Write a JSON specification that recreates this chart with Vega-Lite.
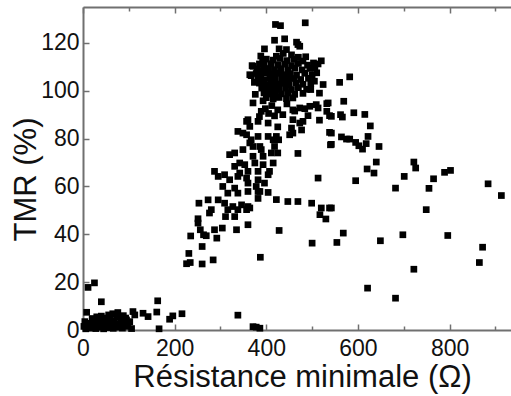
{
  "$schema": "https://vega.github.io/schema/vega-lite/v6.json",
  "width": 428,
  "height": 323,
  "autosize": "none",
  "padding": {"left": 83, "top": 7, "right": 0, "bottom": 66},
  "background": "white",
  "config": {"view": {"stroke": null}, "font": "Liberation Sans"},
  "data": {"values": [
    {"r":2,"tmr":1.5},{"r":4,"tmr":3.5},{"r":6,"tmr":0.5},{"r":9,"tmr":2},{"r":12,"tmr":1},{"r":15,"tmr":2.8},{"r":18,"tmr":0.8},{"r":22,"tmr":1.8},{"r":26,"tmr":3.2},{"r":28,"tmr":0.6},
    {"r":32,"tmr":2.2},{"r":35,"tmr":4.5},{"r":38,"tmr":1.2},{"r":42,"tmr":3},{"r":45,"tmr":0.5},{"r":47,"tmr":5},{"r":50,"tmr":2.2},{"r":53,"tmr":4},{"r":55,"tmr":1},{"r":58,"tmr":3.2},
    {"r":60,"tmr":5.2},{"r":63,"tmr":1.8},{"r":66,"tmr":0.7},{"r":68,"tmr":3.8},{"r":72,"tmr":2.5},{"r":75,"tmr":5.5},{"r":78,"tmr":1.2},{"r":82,"tmr":3.3},{"r":86,"tmr":0.8},{"r":90,"tmr":2.5},
    {"r":93,"tmr":5},{"r":98,"tmr":1.5},{"r":102,"tmr":3.5},{"r":106,"tmr":0.6},{"r":40,"tmr":5.8},{"r":30,"tmr":5.5},{"r":20,"tmr":4.8},{"r":56,"tmr":6.3},{"r":65,"tmr":6.8},{"r":88,"tmr":6},
    {"r":11,"tmr":17.8},{"r":25,"tmr":19.7},{"r":40,"tmr":11.8},{"r":8,"tmr":7.4},{"r":76,"tmr":7.3},{"r":84,"tmr":4.9},{"r":95,"tmr":4.2},{"r":109,"tmr":7.7},{"r":113,"tmr":6.3},{"r":131,"tmr":7},
    {"r":142,"tmr":5.6},{"r":161,"tmr":7.5},{"r":163,"tmr":12.2},{"r":166,"tmr":0.5},{"r":189,"tmr":4.5},{"r":196,"tmr":5.9},{"r":216,"tmr":6.8},
    {"r":226,"tmr":27.7},{"r":234,"tmr":28.2},{"r":231,"tmr":32},{"r":260,"tmr":27.6},{"r":284,"tmr":29.3},{"r":260,"tmr":34.9},{"r":235,"tmr":39.3},{"r":256,"tmr":41.9},{"r":263,"tmr":39.8},{"r":269,"tmr":39.4},
    {"r":287,"tmr":41.9},{"r":292,"tmr":38.4},{"r":304,"tmr":42.6},{"r":335,"tmr":41.9},{"r":360,"tmr":44},{"r":428,"tmr":41.6},{"r":251,"tmr":46.5},{"r":251,"tmr":44.7},{"r":276,"tmr":48.9},{"r":280,"tmr":50.3},
    {"r":253,"tmr":53},{"r":273,"tmr":54.4},{"r":311,"tmr":47.4},{"r":331,"tmr":47.4},{"r":357,"tmr":50.3},{"r":387,"tmr":30.4},{"r":338,"tmr":6.2},{"r":371,"tmr":1.4},{"r":386,"tmr":0.75},{"r":378,"tmr":1.2},
    {"r":295,"tmr":54.4},{"r":309,"tmr":53},{"r":327,"tmr":51.6},{"r":346,"tmr":52.3},{"r":360,"tmr":51.6},{"r":316,"tmr":50.3},{"r":338,"tmr":50.3},
    {"r":305,"tmr":60},{"r":331,"tmr":59.3},{"r":316,"tmr":57.2},{"r":338,"tmr":57.2},{"r":360,"tmr":57.9},{"r":382,"tmr":57.9},{"r":386,"tmr":57.9},{"r":382,"tmr":55},
    {"r":404,"tmr":57.5},{"r":422,"tmr":54.5},{"r":447,"tmr":53.7},{"r":469,"tmr":53.7},{"r":499,"tmr":53},{"r":520,"tmr":51},{"r":538,"tmr":51},{"r":517,"tmr":48.2},{"r":530,"tmr":46.4},{"r":364,"tmr":51},
    {"r":295,"tmr":64.2},{"r":309,"tmr":64.9},{"r":320,"tmr":62.8},{"r":338,"tmr":64.2},{"r":357,"tmr":63.5},{"r":360,"tmr":61.4},{"r":382,"tmr":62.8},{"r":404,"tmr":64.9},{"r":396,"tmr":61.4},{"r":378,"tmr":60},
    {"r":287,"tmr":66.3},{"r":342,"tmr":69.8},{"r":331,"tmr":68.4},{"r":353,"tmr":69.1},{"r":360,"tmr":66.3},{"r":342,"tmr":65.6},{"r":375,"tmr":69.8},{"r":393,"tmr":69.1},{"r":415,"tmr":69.8},{"r":382,"tmr":66.3},
    {"r":407,"tmr":66.3},{"r":320,"tmr":73.3},{"r":331,"tmr":74},{"r":349,"tmr":75.4},{"r":371,"tmr":76.7},{"r":389,"tmr":75.4},{"r":371,"tmr":72.6},{"r":393,"tmr":72.6},{"r":411,"tmr":74},{"r":418,"tmr":76.7},
    {"r":425,"tmr":74},{"r":469,"tmr":73.8},{"r":338,"tmr":83},{"r":357,"tmr":81.6},{"r":367,"tmr":79.5},{"r":382,"tmr":80.9},{"r":404,"tmr":80.9},{"r":422,"tmr":80.9},{"r":360,"tmr":87.9},{"r":382,"tmr":87.2},
    {"r":404,"tmr":86.5},{"r":425,"tmr":84.9},{"r":455,"tmr":84.4},{"r":477,"tmr":83.6},{"r":451,"tmr":81.6},{"r":436,"tmr":90},{"r":458,"tmr":87.9},{"r":480,"tmr":87.2},{"r":491,"tmr":89.6},{"r":516,"tmr":87.7},
    {"r":371,"tmr":94.9},{"r":393,"tmr":95.8},{"r":389,"tmr":91.4},{"r":364,"tmr":78.2},{"r":386,"tmr":76.7},{"r":415,"tmr":79.5},{"r":427,"tmr":79.5},{"r":349,"tmr":82.3},{"r":364,"tmr":85.1},{"r":357,"tmr":87.2},
    {"r":458,"tmr":82.3},{"r":473,"tmr":86.5},{"r":458,"tmr":92},{"r":473,"tmr":92.8},{"r":516,"tmr":99},{"r":532,"tmr":94.6},{"r":509,"tmr":94.2},{"r":532,"tmr":91.4},{"r":538,"tmr":89.6},{"r":538,"tmr":82.6},
    {"r":575,"tmr":79.8},{"r":540,"tmr":77.4},{"r":462,"tmr":91.5},{"r":484,"tmr":92.5},{"r":495,"tmr":93.5},{"r":513,"tmr":92.8},
    {"r":398,"tmr":92.5},{"r":412,"tmr":93.8},{"r":425,"tmr":92},{"r":445,"tmr":94.5},{"r":418,"tmr":89.5},{"r":405,"tmr":90.5},{"r":385,"tmr":89.2},
    {"r":582,"tmr":105.8},{"r":560,"tmr":103.5},{"r":569,"tmr":95.6},{"r":542,"tmr":89.3},{"r":562,"tmr":90},{"r":566,"tmr":89},{"r":591,"tmr":90.8},{"r":615,"tmr":90.1},{"r":627,"tmr":85.3},
    {"r":542,"tmr":82.3},{"r":542,"tmr":77.6},{"r":564,"tmr":80.7},{"r":582,"tmr":79.8},{"r":595,"tmr":78.4},{"r":602,"tmr":77},{"r":610,"tmr":75.6},{"r":618,"tmr":77.9},{"r":622,"tmr":80.9},{"r":646,"tmr":76.7},
    {"r":640,"tmr":70.2},{"r":620,"tmr":67.3},{"r":635,"tmr":65.6},{"r":595,"tmr":62.4},{"r":513,"tmr":63.5},
    {"r":722,"tmr":70.2},{"r":726,"tmr":67.7},{"r":701,"tmr":64.2},{"r":682,"tmr":59.3},{"r":765,"tmr":63.2},{"r":755,"tmr":59.2},{"r":789,"tmr":65.9},{"r":802,"tmr":66.7},{"r":884,"tmr":61.1},{"r":913,"tmr":56.2},
    {"r":749,"tmr":50.3},{"r":542,"tmr":51},{"r":554,"tmr":36.6},{"r":568,"tmr":40.5},{"r":649,"tmr":37.3},{"r":698,"tmr":39.8},{"r":796,"tmr":39.5},{"r":872,"tmr":34.6},{"r":865,"tmr":28.2},{"r":722,"tmr":25.4},
    {"r":621,"tmr":17.5},{"r":682,"tmr":13.3},{"r":500,"tmr":36.3},
    {"r":420,"tmr":127.7},{"r":431,"tmr":127.2},{"r":485,"tmr":128.4},{"r":418,"tmr":121.1},{"r":440,"tmr":121.7},{"r":466,"tmr":120.3},{"r":473,"tmr":118.6},{"r":396,"tmr":117.5},{"r":428,"tmr":117.5},{"r":444,"tmr":117.2},
    {"r":369,"tmr":110.5},{"r":364,"tmr":106.7},{"r":520,"tmr":112.5},{"r":513,"tmr":111.2},{"r":506,"tmr":109.5},{"r":524,"tmr":102.6},{"r":535,"tmr":94.9},{"r":371,"tmr":110.2},{"r":367,"tmr":106.3},{"r":469,"tmr":119.3},
    {"r":400,"tmr":113.2},{"r":415,"tmr":112.8},{"r":430,"tmr":113.5},{"r":445,"tmr":112.6},{"r":460,"tmr":113.1},{"r":480,"tmr":112.4},
    {"r":385,"tmr":111.2},{"r":395,"tmr":110.6},{"r":410,"tmr":111.3},{"r":425,"tmr":110.8},{"r":440,"tmr":111.1},{"r":455,"tmr":110.5},{"r":470,"tmr":111.4},{"r":490,"tmr":110.7},{"r":503,"tmr":111.6},
    {"r":380,"tmr":109.1},{"r":392,"tmr":108.5},{"r":405,"tmr":109.3},{"r":418,"tmr":108.8},{"r":432,"tmr":109.2},{"r":447,"tmr":108.6},{"r":462,"tmr":109.4},{"r":478,"tmr":108.7},{"r":495,"tmr":109.3},
    {"r":378,"tmr":107.2},{"r":388,"tmr":106.6},{"r":400,"tmr":107.4},{"r":412,"tmr":106.9},{"r":425,"tmr":107.3},{"r":438,"tmr":106.7},{"r":452,"tmr":107.1},{"r":466,"tmr":106.5},{"r":484,"tmr":107.3},{"r":500,"tmr":106.6},
    {"r":382,"tmr":105.1},{"r":395,"tmr":104.6},{"r":408,"tmr":105.3},{"r":420,"tmr":104.8},{"r":434,"tmr":105.2},{"r":448,"tmr":104.6},{"r":460,"tmr":105.1},{"r":475,"tmr":104.7},{"r":492,"tmr":105.2},
    {"r":385,"tmr":103.2},{"r":398,"tmr":102.6},{"r":410,"tmr":103.3},{"r":423,"tmr":102.8},{"r":436,"tmr":103.1},{"r":450,"tmr":102.5},{"r":465,"tmr":103.2},{"r":480,"tmr":102.7},{"r":497,"tmr":102.9},
    {"r":390,"tmr":101.1},{"r":402,"tmr":100.6},{"r":415,"tmr":101.2},{"r":428,"tmr":100.7},{"r":442,"tmr":101.1},{"r":455,"tmr":100.5},{"r":470,"tmr":101.3},{"r":488,"tmr":100.6},
    {"r":395,"tmr":99.1},{"r":408,"tmr":98.6},{"r":420,"tmr":99.2},{"r":433,"tmr":98.7},{"r":447,"tmr":99.1},{"r":462,"tmr":98.5},{"r":480,"tmr":98.9},
    {"r":400,"tmr":97.1},{"r":415,"tmr":96.6},{"r":428,"tmr":97.2},{"r":444,"tmr":96.7},{"r":458,"tmr":97},
    {"r":388,"tmr":114.5},{"r":455,"tmr":115},{"r":470,"tmr":114},{"r":497,"tmr":100.5},{"r":505,"tmr":104},{"r":510,"tmr":107.5},
    {"r":392,"tmr":112.6},{"r":422,"tmr":114.4},{"r":437,"tmr":115.6},{"r":486,"tmr":114.2},{"r":374,"tmr":103.5},{"r":376,"tmr":98.5}
  ]},
  "resolve": {"axis": {"x": "independent"}},
  "layer": [
    {
      "mark": {"type": "square", "size": 45, "color": "#000000", "opacity": 1},
      "encoding": {
        "x": {"field": "r", "type": "quantitative",
          "scale": {"domain": [0, 934], "nice": false, "zero": false},
          "axis": {"orient": "bottom", "values": [0,100,200,300,400,500,600,700,800,900],
            "labelExpr": "datum.value % 200 === 0 ? datum.label : ''",
            "tickSize": {"condition": {"test": "datum.value % 200 === 0", "value": -6}, "value": -4},
            "tickColor": "#707070", "tickWidth": 1.5, "domainColor": "#707070", "domainWidth": 2,
            "grid": false, "labelFontSize": 23, "labelColor": "#111111", "labelPadding": 13,
            "labelFlush": false, "labelOverlap": false,
            "title": "Résistance minimale (Ω)", "titleFontSize": 31, "titleFontWeight": "normal", "titleColor": "#111111", "titlePadding": 0, "titleX": 219}},
        "y": {"field": "tmr", "type": "quantitative",
          "scale": {"domain": [0, 135], "nice": false, "zero": false},
          "axis": {"orient": "left", "values": [0,10,20,30,40,50,60,70,80,90,100,110,120,130],
            "labelExpr": "datum.value % 20 === 0 ? datum.label : ''",
            "tickSize": {"condition": {"test": "datum.value % 20 === 0", "value": -6}, "value": -4},
            "tickColor": "#707070", "tickWidth": 1.5, "domainColor": "#707070", "domainWidth": 2,
            "grid": false, "labelFontSize": 23, "labelColor": "#111111", "labelPadding": 10,
            "labelFlush": false, "labelOverlap": false,
            "title": "TMR (%)", "titleFontSize": 31, "titleFontWeight": "normal", "titleColor": "#111111", "titlePadding": -2, "titleY": 172}}
      }
    },
    {
      "mark": {"type": "square", "opacity": 0},
      "encoding": {
        "x": {"field": "r", "type": "quantitative",
          "axis": {"orient": "top", "values": [0,100,200,300,400,500,600,700,800,900], "labels": false,
            "tickSize": {"condition": {"test": "datum.value % 200 === 0", "value": -6}, "value": -4},
            "tickColor": "#707070", "tickWidth": 1.5, "domainColor": "#707070", "domainWidth": 2,
            "grid": false, "title": null}},
        "y": {"field": "tmr", "type": "quantitative"}
      }
    }
  ]
}
